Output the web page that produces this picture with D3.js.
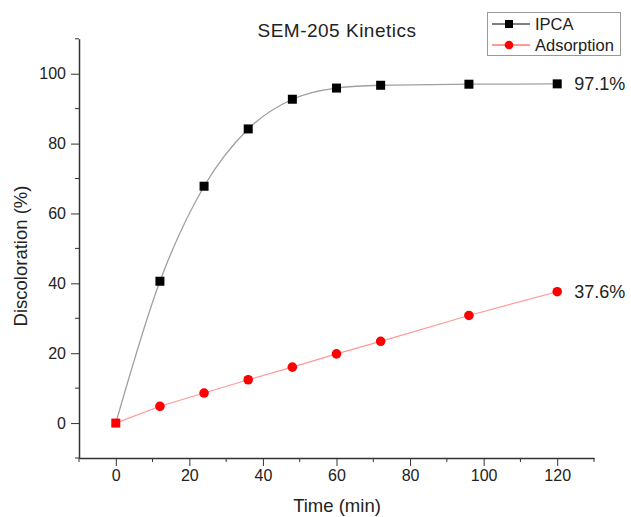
<!DOCTYPE html>
<html><head><meta charset="utf-8">
<script src="https://cdn.jsdelivr.net/npm/d3@7/dist/d3.min.js"></script>
<style>body{margin:0;background:#fff;} text{font-family:"Liberation Sans",Arial,sans-serif;fill:#222;}</style>
</head><body><svg id="c" width="631" height="517"></svg>
<script>
const times = [0, 12, 24, 36, 48, 60, 72, 96, 120];
const ipca = [0, 40.6, 67.8, 84.2, 92.7, 95.9, 96.7, 97.0, 97.1];
const adsorption = [0, 4.8, 8.6, 12.4, 16.0, 19.8, 23.4, 30.8, 37.6];
const xTicks = [0, 20, 40, 60, 80, 100, 120];
const yTicks = [0, 20, 40, 60, 80, 100];
const xMinor = [-10, 10, 30, 50, 70, 90, 110, 130];
const yMinor = [-10, 10, 30, 50, 70, 90, 110];
const seriesNames = ["IPCA", "Adsorption"];
const endLabels = ["97.1%", "37.6%"];

const svg = d3.select("#c");
const x = d3.scaleLinear().domain([-10, 130]).range([79, 594]);
const y = d3.scaleLinear().domain([-10, 110]).range([458, 38.8]);

// axes
const xAxis = d3.axisBottom(x).tickValues(xTicks).tickSize(8).tickSizeOuter(0).tickPadding(4);
const gx = svg.append("g").attr("transform", `translate(0,${y(-10)})`).call(xAxis);
gx.selectAll(".tick line").attr("stroke", "#333");
gx.select(".domain").attr("stroke", "#333").attr("stroke-width", 1.5);
gx.selectAll(".tick text").style("font-size", "16px").attr("fill", "#222");
gx.selectAll(".minor").data(xMinor).enter().append("line")
  .attr("x1", d => x(d)).attr("x2", d => x(d)).attr("y1", 0).attr("y2", 4).attr("stroke", "#333");

const yAxis = d3.axisLeft(y).tickValues(yTicks).tickSize(8).tickSizeOuter(0).tickPadding(5);
const gy = svg.append("g").attr("transform", `translate(${x(-10)},0)`).call(yAxis);
gy.selectAll(".tick line").attr("stroke", "#333");
gy.select(".domain").attr("stroke", "#333").attr("stroke-width", 1.5);
gy.selectAll(".tick text").style("font-size", "16px").attr("fill", "#222");
gy.selectAll(".minor").data(yMinor).enter().append("line")
  .attr("y1", d => y(d)).attr("y2", d => y(d)).attr("x1", 0).attr("x2", -4).attr("stroke", "#333");

// titles
svg.append("text").attr("x", 337).attr("y", 37).attr("text-anchor", "middle")
  .style("font-size", "19px").style("letter-spacing", "0.5px").text("SEM-205 Kinetics");
svg.append("text").attr("x", 337).attr("y", 512).attr("text-anchor", "middle")
  .style("font-size", "18.5px").text("Time (min)");
svg.append("text").attr("transform", "translate(27,256) rotate(-90)").attr("text-anchor", "middle")
  .style("font-size", "18.5px").text("Discoloration (%)");

// lines
const ipcaData = times.map((t, i) => ({t, v: ipca[i]}));
const adsData = times.map((t, i) => ({t, v: adsorption[i]}));
svg.append("path").datum(ipcaData).attr("fill", "none").attr("stroke", "#a0a0a0").attr("stroke-width", 1.3)
  .attr("d", d3.line().x(d => x(d.t)).y(d => y(d.v)).curve(d3.curveMonotoneX));
svg.append("path").datum(adsData).attr("fill", "none").attr("stroke", "#ff9999").attr("stroke-width", 1.2)
  .attr("d", d3.line().x(d => x(d.t)).y(d => y(d.v)));

// markers
svg.selectAll(".sq").data(ipcaData).enter().append("rect")
  .attr("x", d => x(d.t) - 4.5).attr("y", d => y(d.v) - 4.5).attr("width", 9).attr("height", 9)
  .attr("fill", (d, i) => d.v === adsorption[i] ? "#ff0000" : "#000");
svg.selectAll(".ci").data(adsData.filter((d, i) => d.v !== ipca[i])).enter().append("circle")
  .attr("cx", d => x(d.t)).attr("cy", d => y(d.v)).attr("r", 4.8).attr("fill", "#ff0000");

// end labels
svg.append("text").attr("x", x(120) + 17).attr("y", y(ipca[ipca.length - 1]) + 6.5).style("font-size", "18px").text(endLabels[0]);
svg.append("text").attr("x", x(120) + 17).attr("y", y(adsorption[adsorption.length - 1]) + 6.5).style("font-size", "18px").text(endLabels[1]);

// legend
const lg = svg.append("g");
lg.append("rect").attr("x", 487.5).attr("y", 12.5).attr("width", 133).attr("height", 43)
  .attr("fill", "#fff").attr("stroke", "#999").attr("stroke-width", 1);
lg.append("line").attr("x1", 492).attr("x2", 530).attr("y1", 24).attr("y2", 24).attr("stroke", "#000");
lg.append("rect").attr("x", 505).attr("y", 20).attr("width", 8).attr("height", 8).attr("fill", "#000");
lg.append("text").attr("x", 535).attr("y", 30).style("font-size", "16.5px").text(seriesNames[0]);
lg.append("line").attr("x1", 492).attr("x2", 530).attr("y1", 45).attr("y2", 45).attr("stroke", "#ff3333");
lg.append("circle").attr("cx", 509).attr("cy", 45).attr("r", 4.3).attr("fill", "#ff0000");
lg.append("text").attr("x", 535).attr("y", 51).style("font-size", "16.5px").text(seriesNames[1]);
</script></body></html>
